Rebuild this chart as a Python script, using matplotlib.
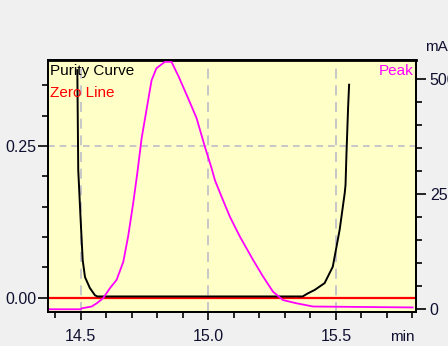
import matplotlib
matplotlib.use('Agg')
import matplotlib.pyplot as plt
from matplotlib.ticker import MultipleLocator, FormatStrFormatter

plt.rcParams['font.family'] = ['Liberation Sans', 'DejaVu Sans']

# purity curve (left axis)
t_purity = [14.487, 14.4906, 14.500, 14.508, 14.517, 14.536, 14.556, 14.565, 14.607,
            15.250, 15.370, 15.390, 15.417, 15.456, 15.488, 15.515, 15.535, 15.538,
            15.5415, 15.548, 15.552]
purity = [0.375, 0.2105, 0.128, 0.062, 0.034, 0.016, 0.004, 0.002, 0.002,
          0.002, 0.002, 0.007, 0.0127, 0.024, 0.051, 0.112, 0.173, 0.186,
          0.235, 0.313, 0.351]

# peak signal in mAU (right axis)
t_peak = [14.372, 14.500, 14.504, 14.543, 14.563, 14.588, 14.615, 14.641, 14.667,
          14.686, 14.706, 14.722, 14.739, 14.778, 14.797, 14.830, 14.856, 14.884,
          14.921, 14.954, 14.987, 15.013, 15.026, 15.052, 15.085, 15.124, 15.176,
          15.215, 15.254, 15.293, 15.346, 15.411, 15.801]
peak = [0, 0, 2, 6, 13, 24, 46, 64, 103, 158, 231, 296, 372, 498, 524, 538, 538,
        506, 459, 416, 353, 307, 281, 245, 201, 158, 107, 71, 38, 20, 13, 6, 4]

x_ticks = [14.5, 15.0, 15.5]
left_ticks = [0.0, 0.25]
right_ticks = [0, 250, 500]

fig = plt.figure(figsize=(4.48, 3.46), dpi=100)
fig.patch.set_facecolor('#F0F0F0')
ax = fig.add_axes([0.1071, 0.0983, 0.8214, 0.7283])
ax.set_facecolor('#FFFFC8')
ax2 = ax.twinx()

txt_col = '#101030'

# grid
for xv in x_ticks:
    ax.axvline(xv, color='#BEBEC8', lw=1.2, ls=(0, (6, 4)), zorder=1)
ax.axhline(0.25, color='#BEBEC8', lw=1.2, ls=(0, (4, 3)), zorder=1)

# zero line + purity curve
ax.axhline(0.0, color='#FF0000', lw=1.6, zorder=2)
ax.plot(t_purity, purity, color='black', lw=1.4, zorder=3)

# peak
ax2.plot(t_peak, peak, color='#FF00FF', lw=1.3, zorder=2)

ax.set_xlim(14.372, 15.814)
ax.set_ylim(-0.0236, 0.3917)
ax2.set_ylim(-5.9, 542)

ax.set_xticks(x_ticks)
ax.xaxis.set_major_formatter(FormatStrFormatter('%.1f'))
ax.xaxis.set_minor_locator(MultipleLocator(0.1))
ax.set_yticks(left_ticks)
ax.yaxis.set_major_formatter(FormatStrFormatter('%.2f'))
ax.yaxis.set_minor_locator(MultipleLocator(0.05))
ax2.set_yticks(right_ticks)
ax2.yaxis.set_minor_locator(MultipleLocator(50))

ax.tick_params(axis='x', which='major', length=6, width=1.2, pad=6,
               labelsize=11.5, labelcolor=txt_col)
ax.tick_params(axis='x', which='minor', length=4, width=1.2)
ax.tick_params(axis='y', which='major', length=7, width=1.2, pad=1,
               labelsize=11.5, labelcolor=txt_col)
ax.tick_params(axis='y', which='minor', length=4, width=1.2)
ax2.tick_params(axis='y', which='major', length=7, width=1.2, pad=3,
                labelsize=11.5, labelcolor=txt_col)
ax2.tick_params(axis='y', which='minor', length=4, width=1.2)

for a in (ax, ax2):
    for s in a.spines.values():
        s.set_color('black')
        s.set_linewidth(1.3)
ax.spines['top'].set_linewidth(2.0)

# labels inside the plot
ax.text(0.006, 0.985, 'Purity Curve', transform=ax.transAxes, ha='left', va='top',
        fontsize=11, color='black')
ax.text(0.006, 0.895, 'Zero Line', transform=ax.transAxes, ha='left', va='top',
        fontsize=11, color='#FF0000')
ax.text(0.992, 0.985, 'Peak', transform=ax.transAxes, ha='right', va='top',
        fontsize=11, color='#FF00FF')

fig.text(425 / 448, 1 - 47 / 346, 'mAU', ha='left', va='center',
         fontsize=11, color=txt_col)
fig.text(415 / 448, 1 - 337 / 346, 'min', ha='right', va='center',
         fontsize=11, color=txt_col)

fig.savefig('out.png', dpi=100, facecolor=fig.get_facecolor())
